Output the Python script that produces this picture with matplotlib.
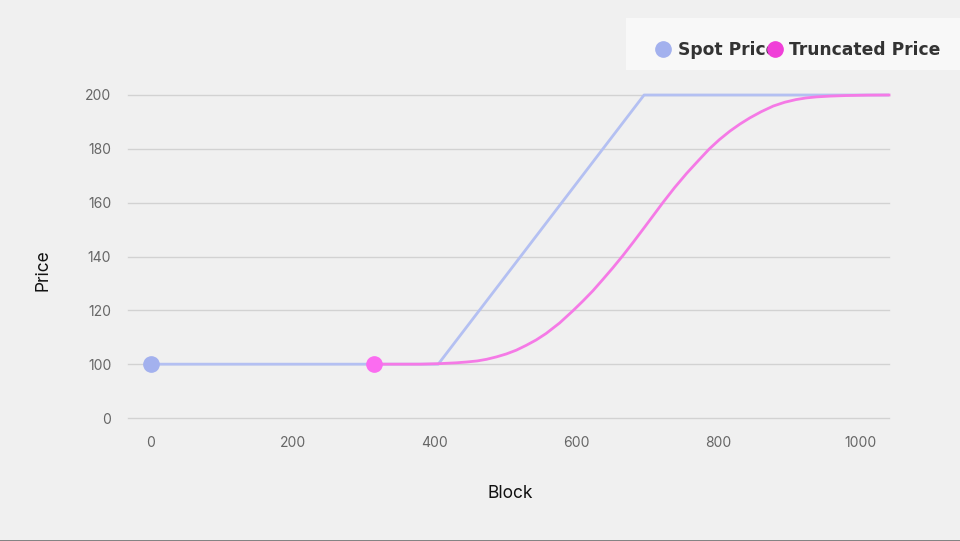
import numpy as np
import matplotlib.pyplot as plt
from matplotlib.lines import Line2D
from matplotlib.patches import Rectangle

# spot price: flat, linear ramp, flat
spot_block = [0, 405, 695, 1040]
spot_price = [100, 100, 200, 200]

# truncated price
trunc_block = [315, 351, 380, 407, 430, 445, 460, 473, 487, 501, 515, 529, 543,
               557, 576, 595, 609, 623, 637, 651, 665, 680, 696, 709, 722, 738,
               755, 771, 787, 801, 816, 830, 844, 860, 877, 893, 909, 923, 938,
               958, 980, 1010, 1040]
trunc_price = [100, 100, 100, 100.2, 100.5, 100.8, 101.2, 101.8, 102.7, 103.8,
               105.2, 107.0, 109.0, 111.4, 115.3, 119.9, 123.5, 127.3, 131.5, 135.8,
               140.3, 145.4, 151.0, 155.6, 160.2, 165.6, 170.9, 175.5, 180, 183.4,
               186.6, 189.2, 191.5, 193.8, 195.9, 197.3, 198.3, 198.9, 199.3,
               199.6, 199.8, 199.95, 200]

yticks = [0, 100, 120, 140, 160, 180, 200]
xticks = [0, 200, 400, 600, 800, 1000]

spot_color = '#a3b1ee'
spot_line = '#b4c0f2'
trunc_color = '#f03fd8'
trunc_line = '#f57ae6'
trunc_marker = '#fb6cf0'


def fwd(y):
    y = np.asarray(y, dtype=float)
    return np.where(y >= 100, y - 80, y * 0.2)


def inv(v):
    v = np.asarray(v, dtype=float)
    return np.where(v >= 20, v + 80, v * 5)


fig = plt.figure(figsize=(9.6, 5.41), dpi=100, facecolor='#f0f0f0')
ax = fig.add_axes([128 / 960, 1 - 418 / 541, (889 - 128) / 960, (418 - 95) / 541])
ax.set_facecolor('#f0f0f0')
ax.set_yscale('function', functions=(fwd, inv))

ax.plot(spot_block, spot_price, color=spot_line, lw=2, clip_on=False, zorder=2,
        solid_capstyle='butt')
ax.plot(trunc_block, trunc_price, color=trunc_line, lw=2, clip_on=False,
        zorder=3, solid_joinstyle='round')
ax.plot([spot_block[0]], [spot_price[0]], 'o', color=spot_color, ms=11,
        clip_on=False, zorder=4)
ax.plot([trunc_block[0]], [trunc_price[0]], 'o', color=trunc_marker, ms=11,
        clip_on=False, zorder=4)

ax.set_xlim(-32, 1040)
ax.set_ylim(0, 200)
ax.set_yticks(yticks)
ax.set_xticks(xticks)
ax.yaxis.grid(True, color='#d2d2d2', lw=1)
for gl in ax.get_ygridlines():
    gl.set_clip_on(False)
ax.set_axisbelow(True)
for s in ax.spines.values():
    s.set_visible(False)
ax.tick_params(length=0, labelsize=10, labelcolor='#666666')
ax.tick_params(axis='y', pad=12)
ax.tick_params(axis='x', pad=13)
for lab in ax.get_xticklabels() + ax.get_yticklabels():
    lab.set_family('Inter')

fig.text(510 / 960, 1 - 494 / 541, 'Block', ha='center', va='center',
         fontsize=12.5, family='Inter', color='#111111')
fig.text(43 / 960, 1 - 270 / 541, 'Price', ha='center', va='center',
         fontsize=12.5, family='Inter', color='#111111', rotation=90)

# legend box
fig.patches.append(Rectangle((626 / 960, 1 - 70 / 541), 334 / 960, 52 / 541,
                             transform=fig.transFigure, facecolor='#f8f8f8',
                             edgecolor='none', zorder=0))
handles = [Line2D([], [], ls='none', marker='o', ms=11, color=spot_color),
           Line2D([], [], ls='none', marker='o', ms=11, color=trunc_color)]
leg = fig.legend(handles, ['Spot Price', 'Truncated Price'], ncol=2,
                 loc='center left', bbox_to_anchor=(648 / 960, 1 - 50 / 541),
                 frameon=False, handlelength=0.8, handletextpad=0.45,
                 columnspacing=-0.55, borderpad=0,
                 prop={'family': 'DejaVu Sans', 'weight': 'bold', 'size': 12.3})
for t in leg.get_texts():
    t.set_color('#333333')

fig.add_artist(Line2D([0, 1], [0.5 / 541, 0.5 / 541], transform=fig.transFigure,
                      color='#777777', lw=2))

fig.savefig('out.png', dpi=100, facecolor=fig.get_facecolor())
